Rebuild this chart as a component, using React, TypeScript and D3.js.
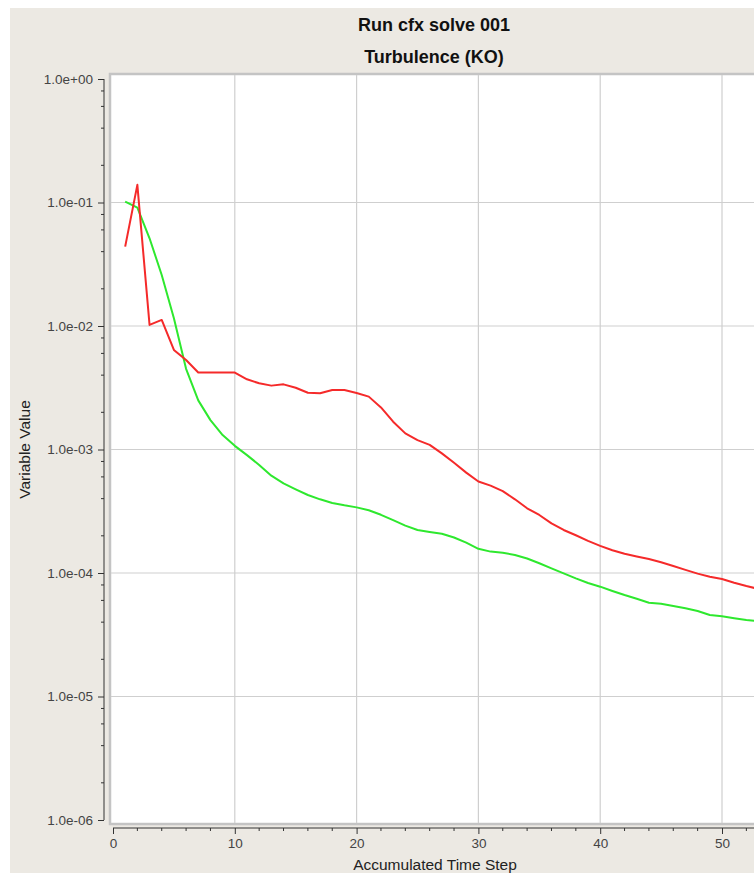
import { useEffect, useRef } from 'react'
import * as d3 from 'd3'

const steps = [
  1, 2, 3, 4, 5, 6, 7, 8, 9, 10, 11, 12, 13, 14, 15, 16, 17, 18, 19, 20, 21, 22, 23, 24, 25, 26, 27,
  28, 29, 30, 31, 32, 33, 34, 35, 36, 37, 38, 39, 40, 41, 42, 43, 44, 45, 46, 47, 48, 49, 50, 51, 52, 53,
]

// red series
const redValues = [
  0.0439, 0.139, 0.0102, 0.0112, 0.0064, 0.0053, 0.0042, 0.0042, 0.0042, 0.0042, 0.0037, 0.00344,
  0.00329, 0.00337, 0.00316, 0.00288, 0.00285, 0.00303, 0.00303, 0.00287, 0.00268, 0.00219, 0.00168,
  0.00135, 0.00119, 0.00109, 0.00093, 0.00078, 0.00065, 0.00055, 0.00051, 0.00046, 0.000395,
  0.000334, 0.000295, 0.000252, 0.000223, 0.000202, 0.000182, 0.000166, 0.000153, 0.000143, 0.000136,
  0.00013, 0.000122, 0.000114, 0.000106, 0.0000988, 0.0000934, 0.0000894, 0.0000835, 0.0000785,
  0.0000742,
]

// green series
const greenValues = [
  0.1016, 0.0908, 0.0513, 0.0259, 0.01154, 0.0045, 0.0025, 0.00173, 0.00131, 0.00107, 0.0009,
  0.00075, 0.000614, 0.000532, 0.000476, 0.000428, 0.000395, 0.000369, 0.000353, 0.00034, 0.000322,
  0.000296, 0.000268, 0.000242, 0.000223, 0.000215, 0.000208, 0.000194, 0.000176, 0.000157, 0.000149,
  0.000146, 0.00014, 0.000131, 0.00012, 0.000109, 0.0000994, 0.0000905, 0.000083, 0.0000775,
  0.0000715, 0.0000663, 0.0000619, 0.0000575, 0.0000564, 0.000054, 0.0000518, 0.0000492, 0.0000457,
  0.0000446, 0.000043, 0.0000416, 0.0000408,
]

const yTickValues = [1, 1e-1, 1e-2, 1e-3, 1e-4, 1e-5, 1e-6]
const xTickValues = [0, 10, 20, 30, 40, 50]

const W = 754
const H = 873

function sci(v: number) {
  const exp = Math.round(Math.log10(v))
  const mant = v / Math.pow(10, exp)
  const sign = exp < 0 ? '-' : '+'
  return `${mant.toFixed(1)}e${sign}${String(Math.abs(exp)).padStart(2, '0')}`
}

export default function App() {
  const svgRef = useRef<SVGSVGElement>(null)

  useEffect(() => {
    if (!svgRef.current) return
    const svg = d3.select(svgRef.current)
    svg.selectAll('*').remove()

    const font = '"Liberation Sans", Arial, sans-serif'

    const x = d3.scaleLinear().domain([0, 50]).range([113, 722])
    const y = d3.scaleLog().domain([1e-6, 1]).range([820, 79])

    // background
    svg.append('rect').attr('width', W).attr('height', H).attr('fill', '#ffffff')
    svg.append('rect')
      .attr('x', 10).attr('y', 8)
      .attr('width', W).attr('height', H)
      .attr('fill', '#ece9e3')

    // titles
    svg.append('text')
      .attr('x', 434).attr('y', 31)
      .attr('text-anchor', 'middle')
      .attr('font-family', font).attr('font-weight', 'bold').attr('font-size', 18)
      .attr('fill', '#111')
      .text('Run cfx solve 001')
    svg.append('text')
      .attr('x', 434).attr('y', 63)
      .attr('text-anchor', 'middle')
      .attr('font-family', font).attr('font-weight', 'bold').attr('font-size', 18)
      .attr('fill', '#111')
      .text('Turbulence (KO)')

    // plot area
    const plotLeft = 110
    const plotTop = 74
    const plotBottom = 824
    svg.append('rect')
      .attr('x', plotLeft).attr('y', plotTop)
      .attr('width', W + 20 - plotLeft).attr('height', plotBottom - plotTop)
      .attr('fill', '#ffffff')
      .attr('stroke', '#c4c4c4')
      .attr('stroke-width', 2.5)

    const defs = svg.append('defs')
    defs.append('clipPath').attr('id', 'plotclip')
      .append('rect')
      .attr('x', plotLeft + 1).attr('y', plotTop + 1)
      .attr('width', W).attr('height', plotBottom - plotTop - 2)

    const grid = svg.append('g').attr('clip-path', 'url(#plotclip)')
    grid.selectAll('.hg')
      .data(yTickValues.slice(1, -1))
      .enter()
      .append('line')
      .attr('x1', plotLeft).attr('x2', W + 10)
      .attr('y1', d => y(d)).attr('y2', d => y(d))
      .attr('stroke', '#cfcfcf').attr('stroke-width', 1.2)
    grid.selectAll('.vg')
      .data(xTickValues.slice(1))
      .enter()
      .append('line')
      .attr('x1', d => x(d)).attr('x2', d => x(d))
      .attr('y1', plotTop).attr('y2', plotBottom)
      .attr('stroke', '#cfcfcf').attr('stroke-width', 1.2)

    // y axis
    const yAxis = d3.axisLeft(y)
      .tickValues(yTickValues)
      .tickFormat(d => sci(d as number))
      .tickSize(6)
      .tickPadding(5)
    const ya = svg.append('g').attr('transform', 'translate(104,0)').call(yAxis)
    ya.select('.domain').attr('stroke', '#333').attr('d', `M0,${y(1)}V${y(1e-6)}`)
    ya.selectAll('.tick line').attr('stroke', '#333')
    ya.selectAll('text')
      .attr('font-family', font).attr('font-size', 13.5).attr('fill', '#444')

    const minorY: number[] = []
    for (let e = -6; e < 0; e++) {
      for (const m of [2, 4, 6, 8]) minorY.push(m * Math.pow(10, e))
    }
    svg.append('g').selectAll('line')
      .data(minorY)
      .enter()
      .append('line')
      .attr('x1', 101).attr('x2', 104)
      .attr('y1', d => y(d)).attr('y2', d => y(d))
      .attr('stroke', '#333')

    // x axis
    const xAxis = d3.axisBottom(x)
      .tickValues(xTickValues)
      .tickFormat(d3.format('d'))
      .tickSize(6)
      .tickPadding(4)
    const xa = svg.append('g').attr('transform', 'translate(0,828)').call(xAxis)
    xa.select('.domain').attr('stroke', '#333').attr('d', `M${x(0)},0H${W + 10}`)
    xa.selectAll('.tick line').attr('stroke', '#333')
    xa.selectAll('text')
      .attr('font-family', font).attr('font-size', 13.5).attr('fill', '#444')

    const minorX = d3.range(2, 60, 2).filter(d => d % 10 !== 0)
    svg.append('g').selectAll('line')
      .data(minorX)
      .enter()
      .append('line')
      .attr('x1', d => x(d)).attr('x2', d => x(d))
      .attr('y1', 828).attr('y2', 831)
      .attr('stroke', '#333')

    // axis titles
    svg.append('text')
      .attr('x', 435).attr('y', 870)
      .attr('text-anchor', 'middle')
      .attr('font-family', font).attr('font-size', 15.5)
      .attr('fill', '#222')
      .text('Accumulated Time Step')
    svg.append('text')
      .attr('transform', `translate(30,${(y(1) + y(1e-6)) / 2}) rotate(-90)`)
      .attr('text-anchor', 'middle')
      .attr('font-family', font).attr('font-size', 15.5)
      .attr('fill', '#222')
      .text('Variable Value')

    // series
    const line = d3.line<number>()
      .x((_, i) => x(steps[i]))
      .y(d => y(d))

    const series = svg.append('g').attr('clip-path', 'url(#plotclip)')
    series.append('path')
      .datum(greenValues)
      .attr('fill', 'none')
      .attr('stroke', '#2ee82e')
      .attr('stroke-width', 2)
      .attr('stroke-linejoin', 'round')
      .attr('d', line)
    series.append('path')
      .datum(redValues)
      .attr('fill', 'none')
      .attr('stroke', '#f52a2a')
      .attr('stroke-width', 2)
      .attr('stroke-linejoin', 'round')
      .attr('d', line)
  }, [])

  return (
    <svg
      ref={svgRef}
      width={W}
      height={H}
      style={{ position: 'absolute', left: 0, top: 0, display: 'block' }}
    />
  )
}
